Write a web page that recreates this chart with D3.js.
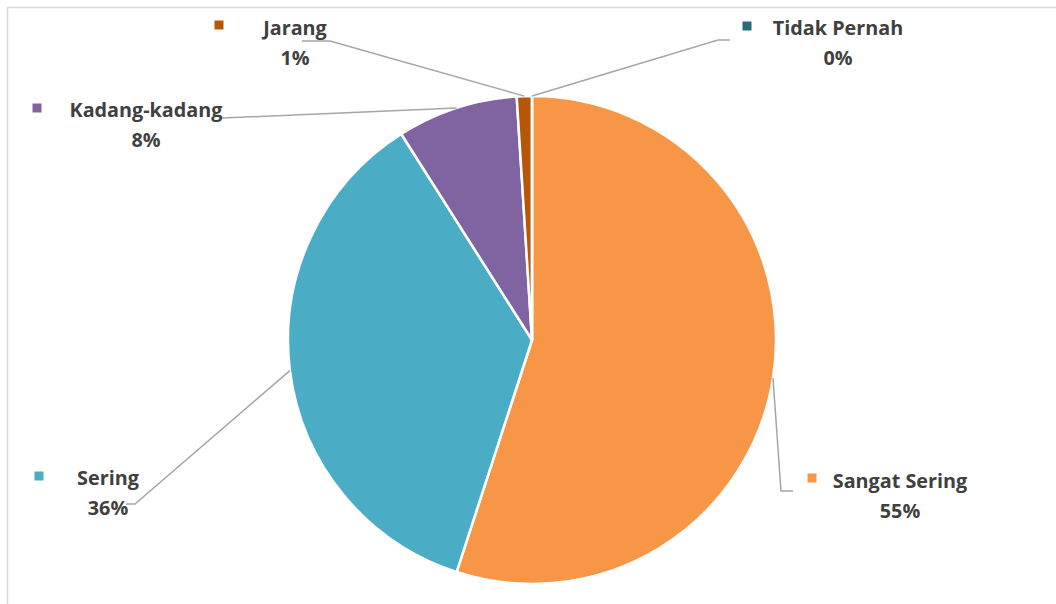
<!DOCTYPE html>
<html>
<head>
<meta charset="utf-8">
<script src="https://cdn.jsdelivr.net/npm/d3@7"></script>
<style>
  html, body { margin: 0; padding: 0; background: #fff; }
  svg { display: block; }
  text { font-family: "Open Sans", "Liberation Sans", sans-serif; font-weight: 700; fill: #404040; }
</style>
</head>
<body>
<svg id="chart" width="1056" height="604"></svg>
<script>
// Response categories, in drawing order (clockwise from 12 o'clock)
const categories = ["Sangat Sering", "Sering", "Kadang-kadang", "Jarang", "Tidak Pernah"];
// Share of responses (%)
const values = [55, 36, 8, 1, 0];
const colors = ["#F79646", "#4BACC6", "#8064A2", "#B65708", "#276A7C"];

// Label placement: name centre, legend key centre, and leader elbow/end points
const labelLayout = {
  "Sangat Sering": { x: 900, y: 480, key: [812, 478], elbow: [781, 491], end: [793, 491] },
  "Sering":        { x: 108, y: 477, key: [39, 476],  elbow: [135, 504], end: [126, 504] },
  "Kadang-kadang": { x: 146, y: 109, key: [37, 108],  elbow: [222, 118], end: null },
  "Jarang":        { x: 295, y: 27,  key: [219, 25],  elbow: [330, 41],  end: [302, 41] },
  "Tidak Pernah":  { x: 838, y: 27,  key: [747, 26],  elbow: [718, 40],  end: [730, 40] }
};

const svg = d3.select("#chart");
const cx = 532, cy = 340, R = 244;

// Chart frame
svg.append("path")
  .attr("d", "M7.5,604 V7.5 H1056")
  .attr("fill", "none")
  .attr("stroke", "#d9d9d9")
  .attr("stroke-width", 1.5);

const data = categories.map((c, i) => ({ name: c, value: values[i], color: colors[i] }));
const pie = d3.pie().sort(null).value(d => d.value).startAngle(0).endAngle(2 * Math.PI);
const arcs = pie(data);
const arc = d3.arc().innerRadius(0).outerRadius(R);

const g = svg.append("g").attr("transform", `translate(${cx},${cy})`);
g.selectAll("path.slice")
  .data(arcs)
  .join("path")
  .attr("class", "slice")
  .attr("d", arc)
  .attr("fill", d => d.data.color)
  .attr("stroke", "#fff")
  .attr("stroke-width", 2.5)
  .attr("stroke-linejoin", "round");

// Leader lines from the slice edge at its mid angle to each label
const lines = svg.append("g");
arcs.forEach(a => {
  const L = labelLayout[a.data.name];
  const mid = (a.startAngle + a.endAngle) / 2;
  const px = cx + R * Math.sin(mid);
  const py = cy - R * Math.cos(mid);
  const pts = [[px, py], L.elbow];
  if (L.end) pts.push(L.end);
  lines.append("path")
    .attr("d", d3.line()(pts))
    .attr("fill", "none")
    .attr("stroke", "#a6a6a6")
    .attr("stroke-width", 1.5);
});

// Labels: legend key, category name and percentage
const fmt = d3.format(".0f");
const labels = svg.append("g");
arcs.forEach(a => {
  const L = labelLayout[a.data.name];
  const lg = labels.append("g");
  lg.append("rect")
    .attr("x", L.key[0] - 4.5).attr("y", L.key[1] - 4.5)
    .attr("width", 9).attr("height", 9)
    .attr("fill", a.data.color);
  lg.append("text")
    .attr("x", L.x).attr("y", L.y)
    .attr("text-anchor", "middle")
    .attr("dominant-baseline", "central")
    .attr("font-size", 19.8)
    .text(a.data.name);
  lg.append("text")
    .attr("x", L.x).attr("y", L.y + 30)
    .attr("text-anchor", "middle")
    .attr("dominant-baseline", "central")
    .attr("font-size", 19.8)
    .text(fmt(a.data.value) + "%");
});
</script>
</body>
</html>
